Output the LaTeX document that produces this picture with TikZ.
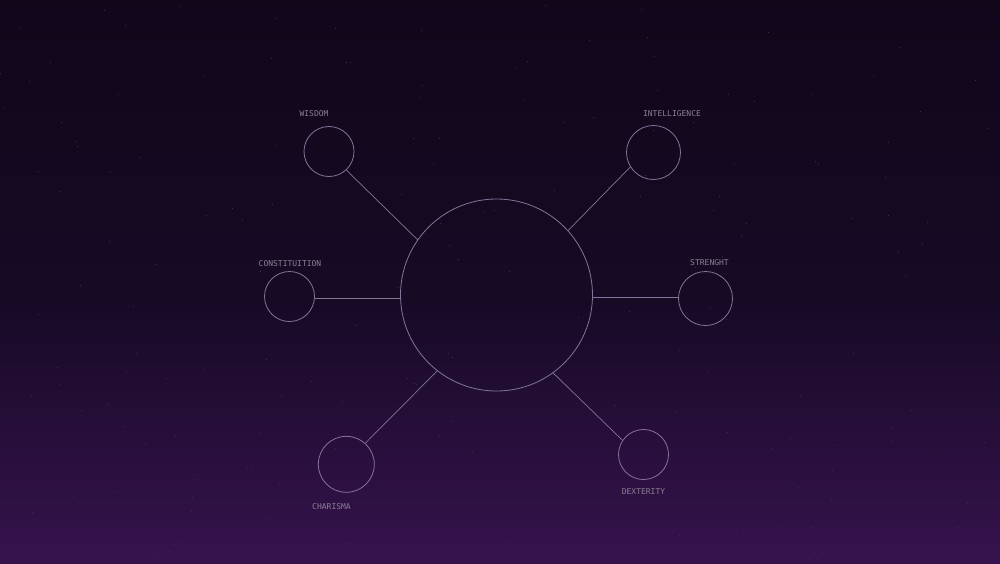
\documentclass[tikz,border=0pt]{standalone}
\usepackage{fontspec}
\newfontfamily\pixfont{DejaVu Sans Mono}
\definecolor{bgtop}{HTML}{11061A}
\definecolor{bgmid}{HTML}{170A25}
\definecolor{bgbot}{HTML}{36134D}
\definecolor{linec}{HTML}{85749A}
\definecolor{textc}{HTML}{8A8094}
\definecolor{starc}{HTML}{3A2C4A}
\tikzset{
  stat/.style={circle, draw=linec, line width=0.8pt, inner sep=0pt},
  core/.style={circle, draw=linec, line width=0.8pt, inner sep=0pt, minimum size=192pt},
  lbl/.style={text=textc, font=\pixfont\fontsize{8}{8}\selectfont, inner sep=0pt},
  link/.style={draw=linec, line width=0.7pt}
}
\begin{document}
\begin{tikzpicture}[x=1pt,y=-1pt]
\useasboundingbox (0,0) rectangle (1000,563);
\shade[top color=bgtop, bottom color=bgmid] (0,0) rectangle (1000,300);
\shade[top color=bgmid, bottom color=bgbot] (0,300) rectangle (1000,563);
% faint stars
\pgfmathsetseed{7}
\foreach \i in {1,...,180}{
  \pgfmathsetmacro{\sx}{rnd*1000}
  \pgfmathsetmacro{\sy}{rnd*560}
  \fill[starc] (\sx,\sy) rectangle ++(1,1);
}
\node[core] (main) at (496.5,295) {};
\node[stat, minimum size=50pt] (wis) at (329,151.5) {};
\node[stat, minimum size=54pt] (int) at (653.5,152.5) {};
\node[stat, minimum size=50pt] (con) at (289.5,296.5) {};
\node[stat, minimum size=54pt] (str) at (705.5,298.5) {};
\node[stat, minimum size=56pt] (cha) at (346.3,464.3) {};
\node[stat, minimum size=50pt] (dex) at (643.5,454.5) {};
\node[lbl] (lwis) at (314,113.5) {WISDOM};
\node[lbl] (lint) at (672,113.5) {INTELLIGENCE};
\node[lbl] (lcon) at (290,263.5) {CONSTITUITION};
\node[lbl] (lstr) at (709.5,262.5) {STRENGHT};
\node[lbl] (lcha) at (331.5,506.5) {CHARISMA};
\node[lbl] (ldex) at (643.5,491.5) {DEXTERITY};
\draw[link] (wis.313) -- (main.145);
\draw[link] (int.212) -- (main.42);
\draw[link] (con.-5) -- (con.-5 -| main.west);
\draw[link] (str.177 -| main.east) -- (str.177);
\draw[link] (cha.48) -- (main.232);
\draw[link] (dex.146) -- (main.306);
\end{tikzpicture}
\end{document}
